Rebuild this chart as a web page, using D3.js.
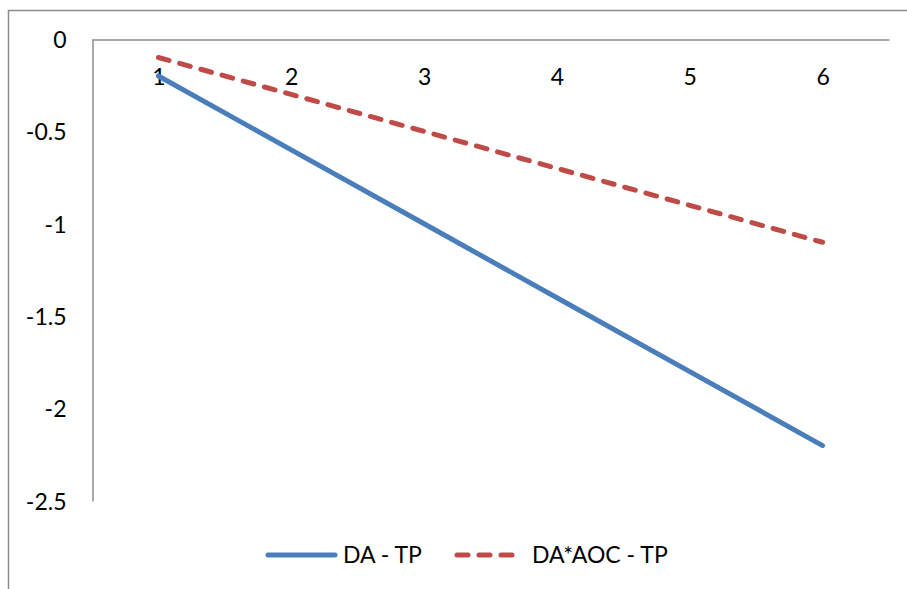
<!DOCTYPE html>
<html><head><meta charset="utf-8">
<script src="https://cdn.jsdelivr.net/npm/d3@7"></script>
<style>
html,body{margin:0;padding:0;background:#fff;}
text{font-family:Lato, "Noto Sans", sans-serif;fill:#000;}
</style></head>
<body>
<svg id="chart" width="907" height="589"></svg>
<script>
const categories = ["1","2","3","4","5","6"];
const seriesNames = ["DA - TP","DA*AOC - TP"];
const daTp = [-0.2,-0.6,-1.0,-1.4,-1.8,-2.2];
const daAocTp = [-0.1,-0.3,-0.5,-0.7,-0.9,-1.1];
const yTicks = [0,-0.5,-1,-1.5,-2,-2.5];

const svg = d3.select("#chart");
const fs = 23;

// outer frame
svg.append("rect").attr("x",8.5).attr("y",10.5).attr("width",1000).attr("height",1000)
  .attr("fill","none").attr("stroke","#8c8c8c").attr("stroke-width",1.5);

const x = d3.scalePoint().domain(categories).range([92,889]).padding(0.5);
const y = d3.scaleLinear().domain([-2.5,0]).range([501,39]);

const yAxis = d3.axisLeft(y).tickValues(yTicks).tickSize(0).tickPadding(26)
  .tickFormat(d=>d===0?"0":String(d));
const gy = svg.append("g").attr("transform","translate(92.5,0)").call(yAxis);
gy.select(".domain").attr("stroke","#8c8c8c").attr("stroke-width",1.5);
gy.selectAll("text").style("font-size",fs+"px").attr("dy","0.36em")
  .style("font-family","Lato, sans-serif");

const xAxis = d3.axisTop(x).tickSize(0).tickPadding(-45);
const gx = svg.append("g").attr("transform","translate(0,39.5)").call(xAxis);
gx.select(".domain").attr("stroke","#8c8c8c").attr("stroke-width",1.5);
gx.selectAll("text").style("font-size",fs+"px").attr("dy","0")
  .style("font-family","Lato, sans-serif");

const line = d3.line().x((d,i)=>x(categories[i])).y(d=>y(d));

svg.append("path").datum(daTp).attr("d",line).attr("fill","none")
  .attr("stroke","#4A7EBB").attr("stroke-width",5).attr("stroke-linecap","round");
svg.append("path").datum(daAocTp).attr("d",line).attr("fill","none")
  .attr("stroke","#BE4B48").attr("stroke-width",5).attr("stroke-linecap","round")
  .attr("stroke-dasharray","11,11");

// legend
const lg = svg.append("g");
const items = [
  {name:seriesNames[0], color:"#4A7EBB", dash:null, x0:268, x1:335, tx:343},
  {name:seriesNames[1], color:"#BE4B48", dash:"11,11", x0:457, x1:514, tx:532}
];
items.forEach(it=>{
  lg.append("line").attr("x1",it.x0).attr("x2",it.x1).attr("y1",555).attr("y2",555)
    .attr("stroke",it.color).attr("stroke-width",5).attr("stroke-linecap","round")
    .attr("stroke-dasharray",it.dash);
  lg.append("text").attr("x",it.tx).attr("y",555).attr("dy","0.36em")
    .style("font-size",fs+"px").text(it.name);
});
</script>
</body></html>
